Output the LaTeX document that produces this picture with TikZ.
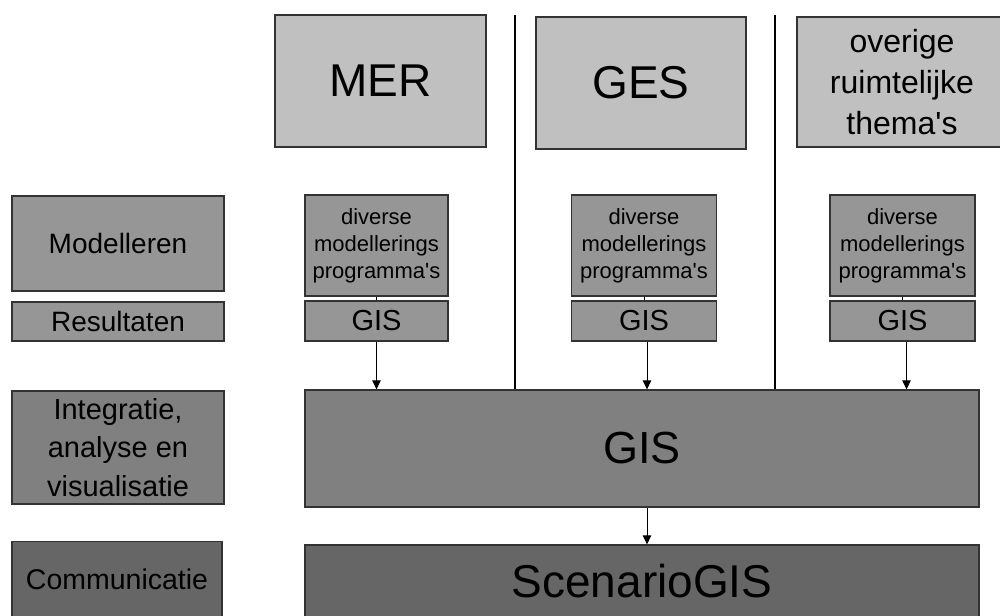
\documentclass[tikz,border=0pt]{standalone}
\usepackage{fontspec}
\setmainfont{Liberation Sans}[Ligatures=TeXOff]
\usepackage{tikz}
\usetikzlibrary{arrows.meta, positioning, calc}

\definecolor{themegray}{HTML}{C0C0C0}
\definecolor{modelgray}{HTML}{969696}
\definecolor{integgray}{HTML}{808080}
\definecolor{commgray}{HTML}{666666}
\definecolor{edgegray}{HTML}{333333}

\tikzset{
  box/.style={draw=edgegray, line width=1.3pt, inner sep=0pt, align=center, text=black},
  themebox/.style={box, fill=themegray, font=\fontsize{46}{54}\selectfont},
  levelbox/.style={box, fill=modelgray, font=\fontsize{28}{36}\selectfont},
  progbox/.style={box, fill=modelgray, font=\fontsize{22}{27}\selectfont},
  flow/.style={line width=1pt, -{Triangle[length=9pt, width=8.5pt]}},
}

\begin{document}
\begin{tikzpicture}[x=1pt, y=-1pt]
  \useasboundingbox (0,0) rectangle (1000,615);

  % Thema's bovenaan
  \node[themebox, minimum width=211pt, minimum height=132pt] (mer) at (380.5, 81) {MER};
  \node[themebox, minimum width=210pt, minimum height=132pt] (ges) at (641, 83) {GES};
  \node[themebox, minimum width=210pt, minimum height=130pt, font=\fontsize{32}{41}\selectfont] (overig) at (902, 82) {overige\\ruimtelijke\\thema's};

  % Scheidingslijnen
  \coordinate (sep1top) at (515, 15);
  \coordinate (sep2top) at (775, 15);

  % Niveaus links
  \node[levelbox, minimum width=212pt, minimum height=95pt] (modelleren) at (118, 243.5) {Modelleren};
  \node[levelbox, minimum width=212pt, minimum height=39pt] (resultaten) at (118, 321.5) {Resultaten};
  \node[levelbox, fill=integgray, minimum width=212pt, minimum height=113pt, font=\fontsize{29}{38.5}\selectfont] (integratie) at (118, 447.5) {Integratie,\\analyse en\\visualisatie};
  \node[levelbox, fill=commgray, minimum width=210pt, minimum height=75pt, font=\fontsize{28.5}{36}\selectfont] (communicatie) at (117, 579) {Communicatie};

  % Modellen per thema
  \node[progbox, minimum width=143pt, minimum height=101pt] (prog1) at (376.5, 245.5) {diverse\\modellerings\\programma's};
  \node[levelbox, minimum width=143pt, minimum height=40pt, font=\fontsize{29}{36}\selectfont] (gis1) at (376.5, 321) {GIS};
  \node[progbox, minimum width=145pt, minimum height=101pt] (prog2) at (644, 245.5) {diverse\\modellerings\\programma's};
  \node[levelbox, minimum width=145pt, minimum height=40pt, font=\fontsize{29}{36}\selectfont] (gis2) at (644, 321) {GIS};
  \node[progbox, minimum width=145pt, minimum height=101pt] (prog3) at (902.5, 245.5) {diverse\\modellerings\\programma's};
  \node[levelbox, minimum width=145pt, minimum height=40pt, font=\fontsize{29}{36}\selectfont] (gis3) at (902.5, 321) {GIS};

  % Integratie en communicatie
  \node[box, fill=integgray, minimum width=674pt, minimum height=117pt, font=\fontsize{45}{54}\selectfont] (gis) at (642, 448.5) {GIS};
  \node[box, fill=commgray, minimum width=674pt, minimum height=72pt, font=\fontsize{46}{54}\selectfont] (scenario) at (642, 581) {ScenarioGIS};

  \draw[line width=1.3pt] (sep1top) -- (sep1top |- gis.north);
  \draw[line width=1.3pt] (sep2top) -- (sep2top |- gis.north);

  \draw[line width=1pt] (prog1) -- (gis1);
  \draw[line width=1pt] (prog2) -- (gis2);
  \draw[line width=1pt] (prog3) -- (gis3);

  \draw[flow] (gis1.south) -- (gis1.south |- gis.north);
  \draw[flow] ([xshift=3pt]gis2.south) -- ([xshift=3pt]gis2.south |- gis.north);
  \draw[flow] ([xshift=4pt]gis3.south) -- ([xshift=4pt]gis3.south |- gis.north);
  \draw[flow] ([xshift=5pt]gis.south) -- ([xshift=5pt]gis.south |- scenario.north);
\end{tikzpicture}
\end{document}
